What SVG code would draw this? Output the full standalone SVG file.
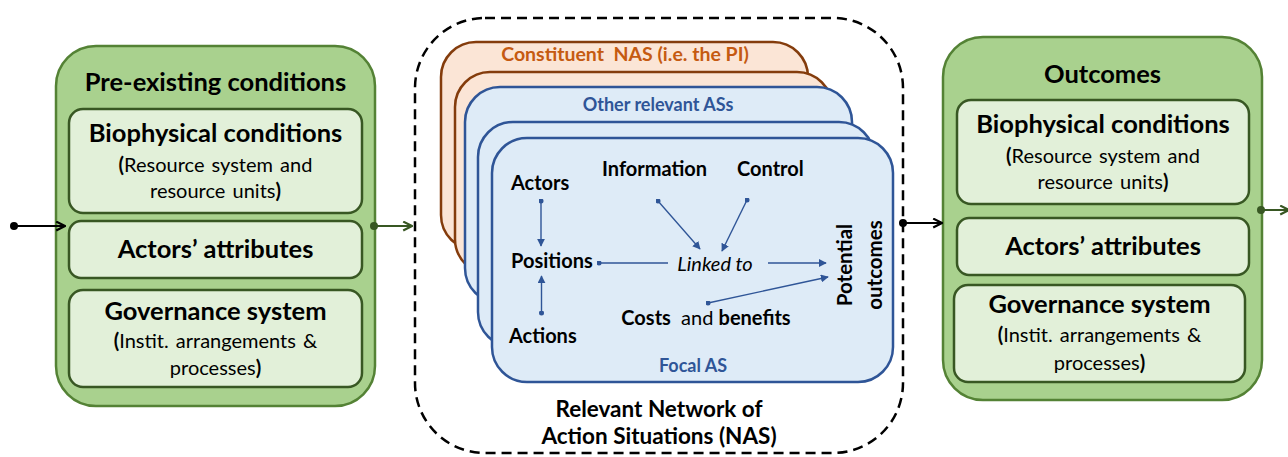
<svg xmlns="http://www.w3.org/2000/svg" width="1288" height="457" viewBox="0 0 1288 457">
<style>
text{font-family:Lato,"Open Sans","Liberation Sans",sans-serif;fill:#000}
.b{font-weight:bold}
.t{font-size:25.5px;font-weight:bold;text-anchor:middle}
.s{font-size:20px;text-anchor:middle;word-spacing:2px}
.outer{fill:#a9d18e;stroke:#548235;stroke-width:2.5}
.inner{fill:#e2f0d9;stroke:#385723;stroke-width:2.5}
.card-o{fill:#fbe5d6;stroke:#843c0c;stroke-width:2.5}
.card-b{fill:#deebf7;stroke:#2f5597;stroke-width:2.5}
.lab{font-size:20px;font-weight:bold}
.blue{fill:#2f5597}
.ca{stroke:#2f5597;stroke-width:1.4;fill:none}
</style>
<defs>
<marker id="ab" viewBox="0 0 10 10" refX="9" refY="5" markerWidth="8" markerHeight="8" markerUnits="userSpaceOnUse" orient="auto"><path d="M0,0 L10,5 L0,10 Z" fill="#2f5597"/></marker>
<marker id="db" viewBox="0 0 10 10" refX="5" refY="5" markerWidth="5" markerHeight="5" markerUnits="userSpaceOnUse"><circle cx="5" cy="5" r="5" fill="#2f5597"/></marker>
<marker id="ak" viewBox="0 0 10 10" refX="9" refY="5" markerWidth="11" markerHeight="11" markerUnits="userSpaceOnUse" orient="auto"><path d="M1,1 L9,5 L1,9" fill="none" stroke="#000" stroke-width="2"/></marker>
<marker id="dk" viewBox="0 0 10 10" refX="5" refY="5" markerWidth="8" markerHeight="8" markerUnits="userSpaceOnUse"><circle cx="5" cy="5" r="5" fill="#000"/></marker>
<marker id="ag" viewBox="0 0 10 10" refX="9" refY="5" markerWidth="11" markerHeight="11" markerUnits="userSpaceOnUse" orient="auto"><path d="M1,1 L9,5 L1,9" fill="none" stroke="#385723" stroke-width="2"/></marker>
<marker id="dg" viewBox="0 0 10 10" refX="5" refY="5" markerWidth="8" markerHeight="8" markerUnits="userSpaceOnUse"><circle cx="5" cy="5" r="5" fill="#385723"/></marker>
</defs>

<g id="pre-existing">
<rect class="outer" x="56" y="46" width="319" height="360" rx="40"/>
<text class="t" x="215.5" y="91">Pre-existing conditions</text>
<rect class="inner" x="69" y="109" width="293" height="104" rx="14"/>
<text class="t" x="215.5" y="142">Biophysical conditions</text>
<text class="s" x="215.5" y="172"><tspan class="b">(</tspan>Resource system and</text>
<text class="s" x="215.5" y="198">resource units<tspan class="b">)</tspan></text>
<rect class="inner" x="69" y="221" width="293" height="57" rx="12"/>
<text class="t" x="215.5" y="258">Actors’ attributes</text>
<rect class="inner" x="69" y="290" width="293" height="97" rx="14"/>
<text class="t" x="215.5" y="320">Governance system</text>
<text class="s" x="215.5" y="348"><tspan class="b">(</tspan>Instit. arrangements &amp;</text>
<text class="s" x="215.5" y="375">processes<tspan class="b">)</tspan></text>
</g>

<g id="nas">
<rect x="415" y="18" width="488" height="435" rx="70" fill="none" stroke="#000" stroke-width="2.5" stroke-dasharray="10,6"/>
<rect class="card-o" x="441" y="42" width="367" height="208" rx="35"/>
<text x="625" y="61" style="font-size:19.5px;font-weight:bold;text-anchor:middle;fill:#c55a11;white-space:pre">Constituent  NAS (i.e. the PI)</text>
<rect class="card-o" x="455" y="72" width="377" height="202" rx="35"/>
<rect class="card-b" x="465" y="87" width="387" height="216" rx="35"/>
<text class="blue" x="658" y="111" style="font-size:18px;font-weight:bold;text-anchor:middle">Other relevant ASs</text>
<rect class="card-b" x="478" y="122" width="396" height="225" rx="35"/>
<text x="659" y="417" style="font-size:22.5px;font-weight:bold;text-anchor:middle">Relevant Network of</text>
<text x="659" y="444" style="font-size:22.5px;font-weight:bold;text-anchor:middle">Action Situations (NAS)</text>
</g>

<g id="focal-as">
<rect class="card-b" x="492" y="138" width="401" height="244" rx="35"/>
<text class="lab" x="511" y="190">Actors</text>
<text class="lab" x="602" y="176">Information</text>
<text class="lab" x="737" y="176">Control</text>
<text class="lab" x="511" y="268">Positions</text>
<text x="715" y="271" style="font-size:20px;font-style:italic;text-anchor:middle">Linked to</text>
<text x="706" y="325" style="font-size:20px;text-anchor:middle;white-space:pre"><tspan class="b">Costs</tspan>  and <tspan class="b">benefits</tspan></text>
<text class="lab" x="509" y="343">Actions</text>
<text class="blue" x="693" y="372" style="font-size:18px;font-weight:bold;text-anchor:middle">Focal AS</text>
<text transform="translate(852,265) rotate(-90)" style="font-size:20.5px;font-weight:bold;text-anchor:middle">Potential</text>
<text transform="translate(882,265) rotate(-90)" style="font-size:20.5px;font-weight:bold;text-anchor:middle">outcomes</text>
</g>

<g id="outcomes">
<rect class="outer" x="943" y="37" width="319" height="363" rx="40"/>
<text class="t" x="1102.5" y="83">Outcomes</text>
<rect class="inner" x="957" y="100" width="292" height="104" rx="14"/>
<text class="t" x="1103" y="133">Biophysical conditions</text>
<text class="s" x="1103" y="163"><tspan class="b">(</tspan>Resource system and</text>
<text class="s" x="1103" y="189">resource units<tspan class="b">)</tspan></text>
<rect class="inner" x="957" y="218" width="292" height="57" rx="12"/>
<text class="t" x="1103" y="255">Actors’ attributes</text>
<rect class="inner" x="954" y="285" width="291" height="97" rx="14"/>
<text class="t" x="1099.5" y="313">Governance system</text>
<text class="s" x="1099.5" y="342"><tspan class="b">(</tspan>Instit. arrangements &amp;</text>
<text class="s" x="1099.5" y="370">processes<tspan class="b">)</tspan></text>
</g>

<g id="connectors">
<line x1="14" y1="226" x2="65" y2="226" stroke="#000" stroke-width="2" marker-start="url(#dk)" marker-end="url(#ak)"/>
<line x1="374" y1="226" x2="412" y2="226" stroke="#385723" stroke-width="2" marker-start="url(#dg)" marker-end="url(#ag)"/>
<line x1="903" y1="223" x2="942" y2="223" stroke="#000" stroke-width="2" marker-start="url(#dk)" marker-end="url(#ak)"/>
<line x1="1261" y1="210" x2="1289" y2="210" stroke="#385723" stroke-width="2" marker-start="url(#dg)" marker-end="url(#ag)"/>
<line class="ca" x1="541" y1="201" x2="541" y2="246" marker-start="url(#db)" marker-end="url(#ab)"/>
<line class="ca" x1="541.5" y1="313" x2="541.5" y2="276" marker-start="url(#db)" marker-end="url(#ab)"/>
<line class="ca" x1="599" y1="263" x2="668" y2="263" marker-start="url(#db)"/>
<line class="ca" x1="768" y1="263" x2="826" y2="263" marker-end="url(#ab)"/>
<line class="ca" x1="658" y1="201" x2="700" y2="249" marker-start="url(#db)" marker-end="url(#ab)"/>
<line class="ca" x1="747" y1="200" x2="722" y2="251" marker-start="url(#db)" marker-end="url(#ab)"/>
<line class="ca" x1="708" y1="303" x2="828" y2="277" marker-start="url(#db)" marker-end="url(#ab)"/>
</g>
</svg>
